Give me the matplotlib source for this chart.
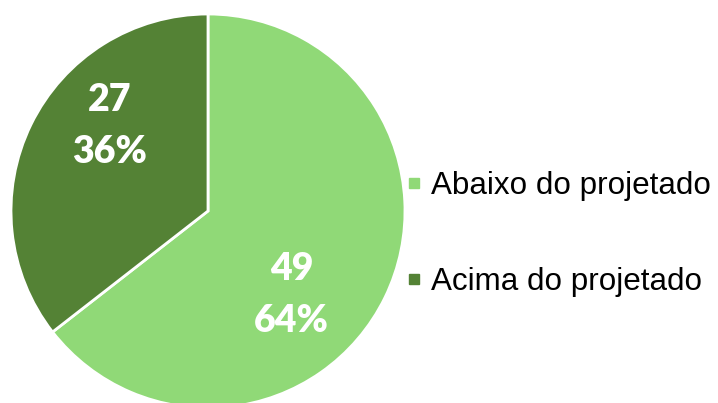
import numpy as np
import matplotlib

matplotlib.use("Agg")
import matplotlib.pyplot as plt
from matplotlib.lines import Line2D

categories = ["Abaixo do projetado", "Acima do projetado"]
counts = [49, 27]
colors = ["#90D977", "#548235"]

W, H = 718, 403
cx, cy, radius = 208, 211, 197

fig = plt.figure(figsize=(W / 100, H / 100), dpi=100)
ax = fig.add_axes([0, 0, 1, 1])

wedges, _ = ax.pie(
    counts,
    colors=colors,
    startangle=90,
    counterclock=False,
    radius=radius,
    wedgeprops=dict(edgecolor="white", linewidth=2),
)
# pie() resets the limits, so put the pixel-like frame back afterwards
ax.set_xlim(-cx, W - cx)
ax.set_ylim(-(H - cy), cy)
ax.set_aspect("equal")
ax.axis("off")

total = sum(counts)
# label spots relative to each wedge: (fraction of radius, angle shift in degrees)
label_spots = [(0.6, -19), (0.66, -15)]
for wedge, n, (dist, shift) in zip(wedges, counts, label_spots):
    mid = np.deg2rad((wedge.theta1 + wedge.theta2) / 2 + shift)
    x, y = dist * radius * np.cos(mid), dist * radius * np.sin(mid)
    ax.text(
        x, y, f"{n}\n{round(100 * n / total)}%",
        ha="center", va="center", color="white",
        fontsize=27, fontweight="heavy", family="Lato", linespacing=1.65,
    )

handles = [
    Line2D([], [], linestyle="none", marker="s", markersize=7, color=c)
    for c in colors
]
fig.legend(
    handles, categories,
    loc="center left", bbox_to_anchor=(406 / W, 1 - 234 / H),
    frameon=False, prop={"family": "Liberation Sans", "size": 22.6},
    handlelength=0.5, handletextpad=0.3, labelspacing=2.1,
    borderpad=0, borderaxespad=0,
)

fig.savefig("out.png", dpi=100)
